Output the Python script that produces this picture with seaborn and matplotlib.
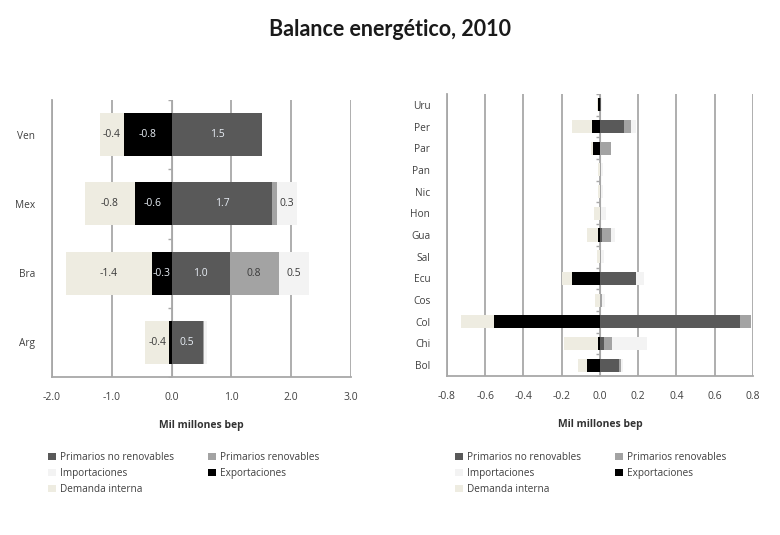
import matplotlib
matplotlib.use("Agg")
import matplotlib.pyplot as plt
import seaborn as sns
import numpy as np
import pandas as pd
from matplotlib.patches import Patch

# ---------------- data ----------------
series = ["Primarios no renovables", "Primarios renovables", "Importaciones",
          "Exportaciones", "Demanda interna"]
colors = {"Primarios no renovables": "#595959",
          "Primarios renovables": "#a3a3a3",
          "Importaciones": "#f3f3f3",
          "Exportaciones": "#000000",
          "Demanda interna": "#eeece1"}

# left panel (top to bottom)
left_countries = ["Ven", "Mex", "Bra", "Arg"]
left_pnr = [1.52, 1.68, 0.97, 0.52]
left_pr = [0.0, 0.08, 0.82, 0.02]
left_imp = [0.0, 0.34, 0.50, 0.05]
left_exp = [-0.80, -0.62, -0.33, -0.04]
left_dem = [-0.40, -0.82, -1.44, -0.40]

# right panel (top to bottom)
right_countries = ["Uru", "Per", "Par", "Pan", "Nic", "Hon", "Gua", "Sal",
                   "Ecu", "Cos", "Col", "Chi", "Bol"]
right_pnr = [0.003, 0.125, 0.0, 0.0, 0.0, 0.0, 0.01, 0.0, 0.19, 0.0, 0.73, 0.02, 0.10]
right_pr = [0.004, 0.035, 0.055, 0.004, 0.004, 0.006, 0.045, 0.006, 0.0, 0.008, 0.06, 0.045, 0.01]
right_imp = [0.006, 0.03, 0.0, 0.012, 0.01, 0.025, 0.025, 0.015, 0.04, 0.02, 0.0, 0.18, 0.01]
right_exp = [-0.012, -0.04, -0.035, 0.0, 0.0, 0.0, -0.01, 0.0, -0.145, 0.0, -0.555, -0.01, -0.07]
right_dem = [-0.006, -0.105, -0.01, -0.012, -0.01, -0.03, -0.06, -0.015, -0.055, -0.025, -0.17, -0.18, -0.045]

plt.rcParams["axes.unicode_minus"] = False
sns.set_style("white")
plt.rcParams["font.family"] = ["Open Sans", "DejaVu Sans"]

fig = plt.figure(figsize=(7.8, 5.35), dpi=100)
ax1 = fig.add_axes([52/780, 1-377/535, (351-52)/780, (377-100)/535])
ax2 = fig.add_axes([447/780, 1-376/535, (753-447)/780, (376-94)/535])

GRID = "#a8a8a8"
TXT = "#404040"


def panel(ax, countries, pnr, pr, imp, exp, dem, xlim, xticks, bar_h, labels):
    pnr, pr, imp = np.array(pnr), np.array(pr), np.array(imp)
    exp, dem = np.array(exp), np.array(dem)
    segs = [("Primarios no renovables", pnr, np.zeros_like(pnr)),
            ("Primarios renovables", pr, pnr),
            ("Importaciones", imp, pnr + pr),
            ("Exportaciones", exp, np.zeros_like(exp)),
            ("Demanda interna", dem, exp)]
    for xv in xticks:
        ax.axvline(xv, color=GRID, lw=1.3, zorder=0)
    for name, vals, base in segs:
        df = pd.DataFrame({"pais": countries, "valor": vals})
        sns.barplot(data=df, x="valor", y="pais", order=countries, orient="h",
                    color=colors[name], saturation=1, width=bar_h, left=base,
                    ax=ax, zorder=2, linewidth=0)
        if labels:
            cont = ax.containers[-1]
            txt = [f"{v:.1f}" if abs(v) >= 0.25 else "" for v in vals]
            dark = name in ("Primarios no renovables", "Exportaciones")
            ax.bar_label(cont, labels=txt, label_type="center", fontsize=7.5,
                         color="#e8eef5" if dark else "#3a3a3a")
    # category axis at zero with small tick marks
    n = len(countries)
    ax.axvline(0, color=GRID, lw=0.8, zorder=1)
    ax.plot([0] * (n + 1), np.arange(n + 1) - 0.5, linestyle="none",
            marker=0, markersize=3, color=GRID, zorder=1)
    ax.set_xlim(*xlim)
    ax.set_ylim(n - 0.5, -0.5)
    ax.set_xticks(xticks)
    ax.set_xticklabels([f"{t:.1f}" for t in xticks], fontsize=7.5, color=TXT)
    ax.tick_params(axis="x", length=0, pad=11)
    ax.tick_params(axis="y", length=0, labelsize=7.3, labelcolor=TXT, pad=12)
    ax.set_ylabel("")
    ax.set_xlabel("Mil millones bep", fontsize=7.5, fontweight="bold", color="#333333", labelpad=12)
    for s in ["top", "right"]:
        ax.spines[s].set_visible(False)
    for s in ["left", "bottom"]:
        ax.spines[s].set_color(GRID)
        ax.spines[s].set_linewidth(1.3)
    ax.set_facecolor("white")


panel(ax1, left_countries, left_pnr, left_pr, left_imp, left_exp, left_dem,
      (-2.0, 3.0), [-2.0, -1.0, 0.0, 1.0, 2.0, 3.0], 0.62, True)
panel(ax2, right_countries, right_pnr, right_pr, right_imp, right_exp, right_dem,
      (-0.8, 0.8), [-0.8, -0.6, -0.4, -0.2, 0.0, 0.2, 0.4, 0.6, 0.8], 0.6, False)

handles = {s: Patch(facecolor=colors[s], edgecolor="none") for s in series}
leg_order = ["Primarios no renovables", "Importaciones", "Demanda interna",
             "Primarios renovables", "Exportaciones"]
for xa in (44, 451):
    fig.legend([handles[s] for s in leg_order], leg_order, loc="upper left",
               bbox_to_anchor=(xa/780, 1-448/535), ncol=2, frameon=False,
               fontsize=7.2, labelcolor=TXT, handlelength=0.8, handleheight=0.8,
               handletextpad=0.4, columnspacing=3.4, labelspacing=0.5,
               borderaxespad=0)

fig.text(0.5, 1-30/535, "Balance energético, 2010", ha="center", va="center",
         fontsize=15.5, fontweight="bold", color="#1a1a1a",
         family=["Lato", "DejaVu Sans"])

fig.savefig("out.png", dpi=100, facecolor="white")
